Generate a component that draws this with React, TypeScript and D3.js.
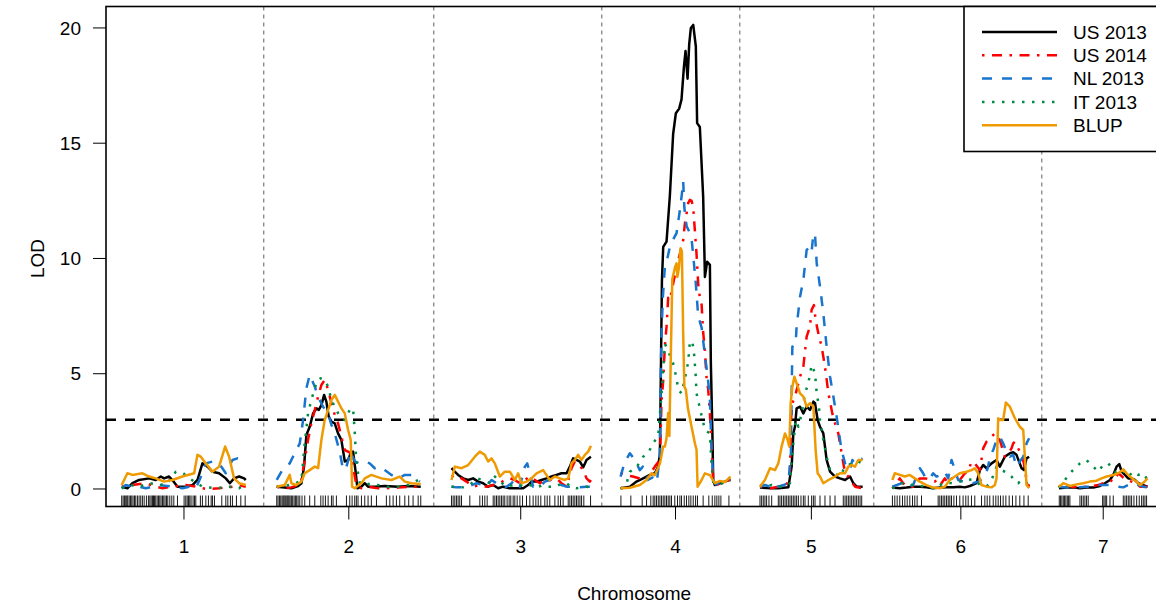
import React from "react";
import * as d3 from "d3";

type Pt = [number, number];

// ---------- data ----------
const chromosomes = ["1", "2", "3", "4", "5", "6", "7"];
const chrLengthsCM = [107, 122, 119, 93, 87, 116, 75];
const chrGapCM = 25;
const dividerPosCM = [121.0, 264.9, 407.1, 523.9, 637.3, 779.5];
const lodThreshold = 3;
const lodTicks = [0, 5, 10, 15, 20];
const seriesNames = ["US 2013", "US 2014", "NL 2013", "IT 2013", "BLUP"];

const markerPos: number[][] = [
  [0.8, 2.0, 3.1, 4.2, 5.1, 5.9, 7.1, 8.2, 9.3, 10.4, 11.6, 12.7, 14.1, 15.5, 16.9, 18.3, 19.8, 21.7, 23.4, 24.6, 25.7, 26.8, 27.7, 28.5, 29.6, 30.8, 31.9, 33.0, 34.1, 35.3, 36.4, 37.5, 38.7, 39.8, 41.5, 43.2, 44.9, 48.0, 53.6, 55.0, 56.2, 57.3, 58.4, 59.5, 61.2, 62.4, 63.5, 67.4, 69.1, 72.0, 74.2, 76.5, 77.6, 79.3, 85.5, 88.9, 90.6, 92.8, 94.5, 97.9, 101.6, 105.3],
  [0, 1.1, 2.3, 3.4, 4.5, 5.4, 6.2, 7.1, 7.9, 8.8, 9.6, 10.4, 11.3, 12.4, 13.5, 14.7, 15.8, 16.9, 18.1, 19.5, 21.4, 23.7, 27.9, 32.2, 37.3, 39.2, 41.2, 43.5, 46.3, 47.7, 50.5, 59.0, 61.8, 63.8, 66.0, 67.4, 68.8, 71.7, 74.5, 77.3, 80.1, 84.4, 92.8, 95.7, 98.5, 101.3, 104.1, 108.4, 111.7, 115.4, 119.7, 121.9],
  [0.9, 2.3, 3.7, 5.1, 6.5, 7.9, 9.4, 16.4, 24.9, 27.1, 29.1, 31.1, 36.2, 37.6, 39.0, 40.4, 41.8, 43.2, 44.6, 46.0, 48.0, 49.7, 51.1, 53.1, 54.5, 56.5, 58.8, 61.0, 64.4, 67.2, 70.0, 72.3, 74.3, 76.5, 79.9, 81.9, 84.1, 88.4, 91.2, 93.2, 95.4, 99.7, 101.1, 102.5, 103.9, 105.3, 106.7, 108.1, 109.6, 111.0, 112.9, 118.6],
  [0.3, 8.7, 18.3, 22.0, 25.6, 27.6, 29.0, 30.4, 31.9, 33.3, 34.7, 36.1, 37.5, 38.9, 40.3, 41.7, 43.1, 45.9, 48.2, 50.2, 51.6, 53.9, 55.8, 57.8, 59.5, 61.5, 63.5, 65.1, 69.9, 74.7, 77.6, 79.8, 81.5, 83.2, 84.9, 91.7],
  [0, 1.4, 2.8, 4.2, 5.6, 7.6, 9.9, 15.5, 16.9, 18.3, 19.8, 21.2, 22.6, 24.0, 25.4, 26.8, 28.2, 29.6, 31.0, 32.5, 34.7, 36.7, 38.1, 40.9, 43.7, 45.2, 46.6, 50.8, 55.0, 59.3, 63.5, 70.5, 72.0, 73.4, 74.8, 76.2, 77.6, 79.0, 80.4, 81.8, 83.2, 84.7, 86.1],
  [0.1, 2.1, 4.1, 6.3, 8.6, 10.6, 12.6, 14.8, 17.1, 19.0, 21.0, 24.7, 38.8, 40.2, 41.6, 43.0, 44.4, 45.9, 47.3, 48.7, 50.1, 52.1, 54.3, 57.1, 59.9, 62.2, 64.2, 67.0, 69.8, 75.5, 78.3, 80.3, 82.5, 85.4, 87.6, 89.6, 91.6, 93.8, 96.1, 98.9, 101.7, 104.6, 107.9, 111.4, 115.0],
  [0.3, 1.4, 2.5, 3.7, 4.8, 5.9, 7.1, 8.2, 9.3, 17.8, 19.2, 20.6, 22.0, 23.4, 24.8, 37.0, 38.1, 39.2, 40.4, 43.2, 46.0, 54.5, 55.9, 57.3, 58.7, 60.1, 61.5, 63.5, 65.8, 68.0, 70.0, 71.4, 72.8, 74.2],
];

const us2013: Pt[][] = [
  [[0.8, 0.1], [5.6, 0.03], [9.9, 0.25], [15.5, 0.39], [24.0, 0.46], [29.6, 0.39], [33.9, 0.54], [36.7, 0.46], [40.9, 0.54], [43.7, 0.39], [48.0, 0.1], [55.0, 0.1], [60.7, 0.17], [64.9, 0.39], [69.1, 1.11], [73.4, 0.97], [77.6, 0.75], [83.2, 0.68], [88.9, 0.46], [92.3, 0.25], [95.9, 0.46], [100.2, 0.54], [104.4, 0.46], [105.8, 0.39]],
  [[0, 0.1], [6.8, 0.06], [12.4, 0.03], [18.1, 0.13], [20.9, 0.25], [23.1, 0.97], [25.1, 2.34], [27.9, 2.7], [30.8, 3.28], [33.6, 3.5], [35.6, 3.43], [37.8, 3.64], [40.1, 4.08], [42.0, 3.79], [44.0, 3.14], [46.3, 2.92], [49.1, 2.85], [51.9, 2.41], [54.7, 2.13], [57.6, 1.19], [60.4, 1.26], [62.6, 1.55], [64.6, 1.62], [66.6, 0.82], [68.3, 0.03], [71.7, 0.1], [74.5, 0.25], [77.3, 0.1], [83.0, 0.1], [91.4, 0.13], [102.7, 0.1], [111.2, 0.13], [121.9, 0.1]],
  [[0.9, 0.9], [3.7, 0.75], [6.5, 0.61], [10.8, 0.46], [15.0, 0.39], [19.2, 0.46], [23.5, 0.32], [27.7, 0.25], [31.9, 0.1], [36.2, 0.17], [40.4, 0.03], [44.6, 0.1], [50.3, 0.03], [55.9, 0.03], [61.6, 0.03], [65.8, 0.17], [68.6, 0.32], [72.9, 0.32], [77.1, 0.39], [81.3, 0.46], [85.6, 0.54], [89.8, 0.61], [94.0, 0.68], [98.3, 0.68], [101.1, 0.97], [103.9, 1.33], [106.7, 1.26], [109.6, 1.19], [112.4, 0.94], [115.2, 1.26], [118.9, 1.4]],
  [[0, 0.03], [7.9, 0.1], [13.5, 0.32], [19.1, 0.46], [24.8, 0.61], [29.0, 0.68], [31.8, 0.97], [33.3, 1.5], [34.1, 5.0], [35.0, 9.0], [36.1, 10.5], [38.9, 10.73], [41.7, 12.7], [44.5, 15.4], [46.8, 16.3], [49.6, 16.5], [51.6, 16.9], [53.6, 18.3], [55.0, 19.0], [56.7, 17.8], [58.1, 19.3], [59.5, 20.0], [61.5, 20.13], [63.7, 19.2], [64.8, 15.87], [67.1, 15.7], [69.9, 12.7], [71.4, 9.2], [73.3, 9.86], [75.6, 9.72], [76.4, 5.5], [77.7, 2.5], [78.4, 0.4], [79.8, 0.17], [84.1, 0.25], [88.3, 0.32], [91.7, 0.39], [93.0, 0.4]],
  [[0, 0.06], [9.9, 0.03], [15.5, 0.03], [24.0, 0.07], [26.8, 0.97], [28.2, 2.41], [29.6, 2.7], [31.0, 3.5], [33.9, 3.57], [36.7, 3.28], [39.5, 3.57], [42.3, 3.43], [45.2, 3.79], [46.6, 3.72], [48.8, 2.99], [50.8, 2.7], [53.6, 2.41], [56.4, 1.26], [59.3, 0.75], [63.5, 0.54], [67.7, 0.46], [72.0, 0.39], [76.2, 0.54], [79.0, 0.25], [81.8, 0.1], [86.9, 0.1]],
  [[0, 0.06], [6.3, 0.03], [12.0, 0.06], [17.6, 0.1], [23.3, 0.1], [28.9, 0.07], [34.6, 0.03], [40.2, 0.06], [45.9, 0.07], [51.5, 0.07], [57.1, 0.1], [61.4, 0.07], [65.6, 0.13], [71.3, 0.25], [74.1, 0.82], [76.9, 1.04], [79.7, 0.9], [84.0, 1.11], [88.2, 1.26], [91.0, 0.97], [95.2, 1.4], [99.5, 1.55], [102.3, 1.59], [105.1, 1.48], [109.4, 0.9], [111.4, 0.82], [113.6, 1.33], [115.8, 1.4]],
  [[0, 0.03], [6.5, 0.06], [12.1, 0.07], [17.8, 0.03], [23.4, 0.06], [29.1, 0.06], [34.7, 0.13], [38.9, 0.25], [43.2, 0.39], [46.0, 0.61], [48.8, 0.97], [51.1, 1.08], [53.1, 0.75], [55.9, 0.61], [58.7, 0.46], [61.5, 0.46], [64.3, 0.39], [67.2, 0.25], [71.4, 0.17], [75.0, 0.1]],
];

const us2014: Pt[][] = [
  [[0.8, 0.1], [9.9, 0.17], [21.2, 0.25], [29.6, 0.1], [35.3, 0.03], [43.7, 0.1], [55.0, 0.17], [63.5, 0.1], [72.0, 0.0], [83.2, 0.03], [94.5, 0.1], [100.2, 0.17], [105.8, 0.1]],
  [[0, 0.1], [6.8, 0.03], [12.4, 0.07], [18.1, 0.17], [20.9, 0.39], [23.7, 1.26], [26.5, 2.13], [29.3, 2.85], [32.2, 3.43], [35.0, 4.01], [37.8, 4.51], [40.6, 4.73], [43.5, 4.3], [46.3, 3.72], [49.1, 3.21], [51.9, 2.85], [54.7, 2.27], [57.6, 1.69], [60.4, 1.62], [62.6, 1.55], [64.6, 0.97], [67.4, 0.17], [71.7, 0.03], [77.3, 0.1], [85.8, 0.03], [91.4, 0.03], [102.7, 0.06], [114.0, 0.1], [121.9, 0.1]],
  [[0.9, 0.54], [5.1, 0.61], [9.4, 0.46], [13.6, 0.32], [19.2, 0.1], [24.9, 0.17], [30.5, 0.1], [36.2, 0.17], [41.8, 0.25], [46.0, 0.39], [50.3, 0.46], [54.5, 0.39], [58.8, 0.25], [63.0, 0.39], [67.2, 0.54], [71.5, 0.39], [75.7, 0.25], [79.9, 0.39], [84.1, 0.39], [89.8, 0.46], [94.0, 0.25], [98.3, 0.1], [102.5, 0.9], [105.3, 1.19], [108.1, 1.11], [112.4, 0.82], [115.2, 0.46], [118.0, 0.32], [118.9, 0.39]],
  [[0, 0.7], [4.5, 0.6], [10.4, 0.54], [16.3, 0.45], [23.1, 0.5], [29.0, 0.97], [33.3, 1.26], [34.7, 3.86], [36.1, 4.7], [37.5, 6.2], [38.9, 7.04], [40.3, 8.3], [41.7, 8.2], [44.5, 8.9], [47.4, 9.64], [50.2, 10.2], [53.0, 10.8], [54.4, 11.5], [55.9, 11.96], [57.2, 12.4], [58.7, 12.54], [60.1, 12.5], [61.5, 12.2], [62.9, 11.2], [64.3, 10.2], [65.7, 8.9], [67.1, 8.3], [68.6, 8.0], [69.9, 6.8], [71.4, 6.0], [72.8, 4.8], [74.2, 4.3], [75.6, 3.3], [77.0, 1.84], [78.4, 0.39], [82.4, 0.2], [85.8, 0.3], [89.2, 0.35], [93.0, 0.4]],
  [[0, 0.1], [8.5, 0.03], [15.5, 0.1], [22.6, 0.17], [25.4, 0.68], [26.2, 2.99], [27.4, 3.72], [29.6, 4.01], [33.9, 4.87], [36.7, 5.31], [39.5, 6.61], [42.3, 7.04], [43.7, 7.77], [45.7, 7.98], [47.1, 7.33], [49.4, 6.75], [52.2, 6.17], [55.0, 5.31], [57.9, 4.15], [61.2, 3.28], [63.5, 2.85], [66.3, 2.41], [69.1, 1.55], [72.0, 0.68], [74.8, 0.54], [80.4, 0.1], [86.9, 0.03]],
  [[0, 0.03], [3.5, 0.25], [6.3, 0.46], [9.2, 0.25], [13.4, 0.1], [17.6, 0.1], [23.3, 0.46], [27.5, 0.46], [31.7, 0.42], [36.0, 0.32], [38.8, 0.46], [41.6, 0.25], [44.4, 0.46], [47.3, 0.25], [50.1, 0.46], [54.3, 0.46], [57.1, 0.39], [61.4, 0.68], [64.2, 0.75], [67.0, 1.19], [69.8, 1.11], [74.1, 0.82], [76.9, 1.76], [79.7, 2.05], [84.0, 2.27], [86.8, 2.41], [88.2, 2.34], [91.0, 2.13], [95.2, 1.4], [98.1, 1.55], [100.9, 1.76], [102.3, 1.98], [103.7, 2.05], [106.5, 1.76], [109.4, 1.48], [111.4, 1.11], [113.6, 0.39], [115.8, 0.1]],
  [[0, 0.07], [3.7, 0.25], [6.5, 0.17], [10.7, 0.1], [17.8, 0.06], [23.4, 0.1], [29.1, 0.14], [33.3, 0.17], [37.5, 0.25], [40.4, 0.3], [43.2, 0.39], [46.0, 0.32], [50.2, 0.68], [53.1, 0.56], [55.9, 0.42], [58.7, 0.36], [61.5, 0.32], [65.8, 0.25], [68.6, 0.1], [75.0, 0.1]],
];

const nl2013: Pt[][] = [
  [[0.8, 0.03], [4.2, 0.17], [9.9, 0.1], [15.5, 0.1], [21.2, 0.03], [26.8, 0.1], [32.5, 0.17], [43.7, 0.1], [52.2, 0.03], [57.9, 0.1], [63.5, 0.03], [69.1, 0.68], [72.0, 1.11], [77.6, 1.19], [83.2, 1.11], [88.9, 0.68], [94.5, 1.26], [98.8, 1.33], [105.8, 1.26]],
  [[0, 0.39], [4.0, 0.75], [6.8, 0.97], [11.0, 1.11], [15.2, 1.55], [19.5, 1.98], [22.3, 2.99], [25.1, 4.37], [27.9, 4.95], [32.2, 4.44], [35.0, 4.01], [39.2, 3.57], [43.5, 3.28], [46.3, 2.78], [49.1, 2.41], [53.3, 1.62], [56.2, 0.82], [59.0, 0.97], [62.6, 1.62], [66.0, 1.19], [70.3, 1.11], [74.5, 1.19], [78.7, 1.11], [83.0, 0.9], [87.2, 0.97], [91.4, 0.82], [97.1, 0.61], [102.7, 0.46], [108.4, 0.61], [114.0, 0.61], [121.1, 0.32]],
  [[0.9, 0.1], [5.1, 0.07], [10.8, 0.07], [16.4, 0.13], [22.1, 0.25], [27.7, 0.17], [30.5, 0.1], [34.8, 0.39], [39.0, 0.25], [43.2, 0.1], [47.5, 0.1], [51.7, 0.25], [54.5, 0.39], [58.8, 0.1], [63.0, 0.97], [65.0, 1.11], [67.2, 0.68], [70.0, 0.1], [75.7, 0.1], [79.9, 0.32], [84.1, 0.39], [89.8, 0.25], [94.0, 0.17], [98.3, 0.1], [103.9, 0.1], [109.6, 0.07], [115.2, 0.1], [118.9, 0.1]],
  [[0, 0.54], [3.6, 1.18], [7.9, 1.55], [12.1, 1.26], [16.3, 0.82], [18.9, 0.97], [23.1, 0.39], [27.3, 0.5], [30.7, 0.3], [33.3, 1.5], [33.9, 4.6], [34.7, 6.8], [35.8, 8.3], [37.5, 9.64], [39.2, 9.9], [41.7, 10.5], [44.3, 10.8], [47.4, 11.1], [50.2, 12.1], [51.9, 12.8], [53.0, 13.35], [54.0, 12.2], [55.9, 11.4], [58.7, 11.1], [60.4, 10.7], [62.1, 9.8], [63.7, 8.9], [65.7, 7.5], [68.6, 7.0], [71.4, 5.8], [73.9, 4.8], [75.6, 3.9], [76.8, 2.0], [78.4, 0.39], [80.7, 0.2], [84.1, 0.3], [88.3, 0.35], [93.0, 0.4]],
  [[0, 0.1], [4.2, 0.17], [8.5, 0.1], [12.7, 0.25], [15.5, 0.1], [19.8, 0.17], [24.0, 0.25], [26.2, 1.55], [26.8, 4.15], [27.4, 6.17], [29.1, 6.32], [30.2, 6.32], [31.0, 7.04], [33.9, 8.34], [36.7, 9.07], [39.5, 10.37], [42.3, 10.51], [43.7, 10.3], [45.2, 11.09], [46.6, 11.02], [48.0, 9.79], [50.8, 8.78], [53.6, 7.62], [56.4, 6.17], [59.3, 4.87], [62.1, 4.01], [64.9, 3.14], [67.7, 2.13], [69.1, 1.69], [72.0, 1.11], [76.2, 0.82], [78.2, 1.26], [80.4, 1.11], [84.7, 1.26], [86.9, 1.33]],
  [[0, 0.1], [3.5, 0.17], [7.8, 0.25], [12.0, 0.1], [17.6, 0.17], [20.5, 0.54], [23.3, 0.9], [26.1, 0.68], [28.9, 0.42], [31.7, 0.46], [34.6, 0.68], [37.4, 0.54], [41.6, 0.61], [44.4, 0.75], [47.3, 0.46], [50.1, 1.26], [52.1, 0.97], [55.7, 0.39], [60.0, 0.32], [64.2, 0.25], [68.4, 0.25], [72.7, 0.32], [76.9, 0.46], [79.7, 0.75], [81.1, 0.97], [82.5, 1.4], [85.4, 1.69], [88.2, 2.13], [91.0, 2.27], [93.8, 1.98], [96.6, 1.62], [99.5, 1.4], [102.3, 1.48], [105.1, 0.97], [107.9, 1.19], [110.8, 1.4], [113.6, 1.98], [115.8, 2.2]],
  [[0, 0.1], [6.5, 0.06], [12.1, 0.07], [17.8, 0.07], [23.4, 0.1], [29.1, 0.1], [33.3, 0.17], [37.5, 0.17], [43.2, 0.17], [46.0, 0.14], [50.2, 0.1], [54.5, 0.07], [58.7, 0.17], [62.9, 0.25], [67.2, 0.17], [71.4, 0.1], [75.0, 0.07]],
];

const it2013: Pt[][] = [
  [[0.8, 0.03], [8.5, 0.17], [15.5, 0.1], [24.0, 0.25], [38.1, 0.17], [46.6, 0.75], [52.2, 0.71], [56.4, 0.54], [62.1, 0.32], [69.1, 0.1], [80.4, 0.03], [91.7, 0.1], [100.2, 0.03], [105.3, 0.25]],
  [[0, 0.1], [6.8, 0.13], [15.2, 0.22], [20.9, 0.39], [23.7, 1.98], [26.5, 3.28], [29.3, 3.86], [32.2, 4.37], [34.4, 4.73], [37.3, 4.8], [40.6, 4.73], [43.5, 4.44], [46.3, 3.86], [49.1, 3.57], [53.3, 3.14], [57.6, 2.99], [61.8, 3.43], [64.6, 3.5], [66.0, 2.49], [67.4, 1.11], [70.3, 0.25], [74.5, 0.17], [80.1, 0.25], [85.8, 0.17], [91.4, 0.1], [102.7, 0.1], [111.2, 0.17], [119.7, 0.39]],
  [[0.9, 0.1], [6.5, 0.1], [10.8, 0.07], [16.4, 0.17], [22.1, 0.46], [27.7, 0.39], [33.4, 0.25], [37.6, 0.54], [41.8, 0.32], [47.5, 0.1], [53.1, 0.17], [58.8, 0.17], [63.0, 0.1], [67.2, 0.17], [72.9, 0.07], [78.5, 0.17], [84.1, 0.1], [89.8, 0.1], [94.0, 0.25], [98.3, 0.25], [102.5, 0.07], [106.7, 0.03], [112.4, 0.07], [115.2, 0.1], [118.9, 0.07]],
  [[0, 0.0], [5.1, 0.25], [7.9, 0.75], [13.0, 0.9], [19.1, 1.4], [23.4, 1.55], [27.6, 2.0], [31.8, 2.27], [34.7, 4.15], [37.5, 6.3], [40.3, 6.0], [41.7, 5.8], [44.5, 5.45], [47.4, 4.8], [48.8, 4.3], [51.6, 4.15], [53.6, 4.6], [55.3, 5.0], [57.2, 5.5], [58.7, 6.4], [60.6, 6.4], [62.0, 6.0], [63.5, 5.0], [64.3, 4.15], [67.1, 3.5], [71.4, 2.56], [75.6, 2.4], [77.0, 1.1], [78.4, 0.3], [84.1, 0.2], [88.3, 0.3], [93.0, 0.35]],
  [[0, 0.17], [4.2, 0.1], [9.9, 0.17], [15.5, 0.1], [21.2, 0.1], [25.4, 0.25], [26.8, 1.26], [29.1, 2.41], [30.2, 2.99], [32.5, 2.7], [35.3, 3.28], [38.1, 4.15], [40.9, 4.58], [43.7, 5.38], [46.6, 5.02], [48.0, 4.15], [49.9, 3.57], [50.8, 2.99], [53.6, 2.13], [56.4, 1.4], [59.3, 0.82], [63.5, 0.68], [67.7, 0.54], [72.0, 0.97], [77.6, 1.11], [83.2, 1.19], [86.9, 1.11]],
  [[0, 0.03], [3.5, 0.1], [7.8, 0.25], [12.0, 0.22], [17.6, 0.17], [23.3, 0.13], [28.9, 0.1], [34.6, 0.03], [40.2, 0.17], [45.9, 0.27], [51.5, 0.25], [57.1, 0.32], [62.8, 0.36], [67.0, 0.42], [71.3, 0.32], [74.1, 0.17], [79.7, 0.1], [84.0, 0.39], [88.2, 0.97], [92.4, 0.82], [98.1, 0.68], [100.9, 0.54], [103.7, 0.32], [106.5, 0.25], [109.4, 0.39], [113.0, 0.32], [115.8, 0.1]],
  [[0, 0.06], [5.1, 0.39], [9.3, 0.68], [13.5, 0.9], [17.8, 1.11], [22.0, 1.26], [24.8, 1.19], [29.1, 0.97], [33.3, 0.75], [37.5, 1.04], [41.8, 1.11], [46.0, 0.82], [50.2, 0.61], [54.5, 0.75], [58.7, 0.54], [62.9, 0.75], [67.2, 0.61], [71.4, 0.68], [75.0, 0.39]],
];

const blup: Pt[][] = [
  [[0.8, 0.17], [5.6, 0.68], [9.9, 0.61], [18.3, 0.68], [24.0, 0.54], [29.6, 0.46], [36.7, 0.32], [43.7, 0.39], [52.2, 0.54], [62.1, 0.68], [64.9, 1.48], [67.7, 1.4], [72.0, 1.11], [77.6, 0.75], [83.2, 0.97], [88.3, 1.84], [91.7, 1.4], [95.9, 0.46], [100.2, 0.25], [105.8, 0.17]],
  [[0, 0.1], [6.8, 0.17], [11.0, 0.61], [12.4, 0.25], [16.6, 0.17], [20.9, 0.32], [23.7, 0.68], [27.9, 0.82], [32.2, 0.97], [35.0, 0.9], [37.8, 2.13], [40.6, 2.99], [43.5, 3.43], [46.3, 3.86], [49.1, 4.08], [51.9, 3.79], [54.7, 3.5], [57.6, 3.28], [60.4, 2.56], [62.6, 2.13], [63.8, 0.1], [66.0, 0.03], [71.7, 0.25], [74.5, 0.46], [80.1, 0.61], [88.6, 0.46], [97.1, 0.39], [104.1, 0.54], [108.4, 0.32], [114.0, 0.25], [121.9, 0.22]],
  [[0.9, 0.39], [3.7, 0.97], [9.4, 0.9], [15.0, 1.04], [20.7, 1.4], [24.9, 1.62], [29.1, 1.48], [31.9, 1.19], [34.8, 1.33], [37.6, 1.11], [41.8, 0.54], [46.0, 0.75], [50.3, 0.75], [54.5, 0.39], [57.3, 0.68], [60.2, 0.25], [64.4, 0.32], [68.6, 0.46], [72.9, 0.68], [78.5, 0.82], [84.1, 0.39], [88.4, 0.54], [92.6, 0.46], [96.8, 0.39], [99.7, 0.46], [102.5, 1.11], [105.3, 1.26], [108.1, 1.48], [111.0, 1.26], [113.8, 1.48], [116.6, 1.62], [118.9, 1.87]],
  [[0, 0.03], [7.9, 0.05], [16.3, 0.17], [22.0, 0.39], [26.2, 0.68], [29.0, 0.6], [33.3, 1.11], [36.1, 1.84], [37.5, 1.84], [38.9, 2.2], [40.3, 3.3], [41.3, 2.3], [42.6, 6.0], [43.8, 9.1], [46.0, 9.6], [47.4, 9.79], [48.1, 9.2], [49.4, 9.6], [50.8, 10.44], [51.9, 10.3], [53.0, 6.75], [54.0, 4.44], [55.3, 4.3], [57.0, 3.5], [60.1, 2.7], [62.9, 1.98], [64.3, 1.7], [65.2, 0.1], [68.6, 0.39], [71.4, 0.68], [75.6, 0.6], [79.8, 0.25], [84.1, 0.35], [88.3, 0.3], [93.0, 0.54]],
  [[0, 0.1], [4.2, 0.39], [8.5, 0.9], [12.7, 0.82], [15.5, 1.11], [18.3, 1.84], [21.2, 2.41], [23.4, 2.13], [24.8, 1.84], [26.0, 3.72], [27.4, 4.44], [29.1, 4.87], [31.0, 4.58], [33.9, 4.15], [36.7, 4.01], [39.5, 3.57], [42.3, 3.72], [45.2, 3.57], [47.1, 1.69], [48.8, 0.68], [50.8, 0.54], [53.6, 0.25], [57.9, 0.39], [63.5, 0.54], [67.7, 0.68], [72.0, 0.68], [74.8, 0.97], [77.6, 1.04], [80.4, 0.97], [83.2, 1.26], [86.9, 1.26]],
  [[0, 0.39], [2.1, 0.68], [6.3, 0.61], [10.6, 0.54], [14.8, 0.61], [19.0, 0.46], [23.3, 0.32], [28.9, 0.17], [34.6, 0.06], [40.2, 0.03], [44.4, 0.1], [48.7, 0.39], [52.9, 0.54], [57.1, 0.68], [62.8, 0.75], [67.0, 0.82], [69.8, 0.9], [72.7, 0.68], [75.5, 0.17], [79.7, 0.1], [84.0, 0.07], [86.8, 0.17], [88.2, 0.46], [89.6, 3.07], [91.0, 2.99], [93.8, 2.99], [96.1, 3.75], [99.5, 3.57], [103.7, 3.07], [107.9, 2.7], [110.8, 2.56], [113.6, 0.17], [115.8, 0.03]],
  [[0, 0.1], [3.7, 0.25], [9.3, 0.13], [15.0, 0.2], [20.6, 0.25], [26.2, 0.32], [31.9, 0.36], [36.1, 0.46], [40.4, 0.54], [46.0, 0.61], [50.2, 0.68], [54.5, 0.85], [57.3, 0.68], [60.1, 0.54], [62.9, 0.42], [65.8, 0.32], [68.6, 0.17], [71.4, 0.27], [75.0, 0.46]],
];

const seriesData = [us2013, us2014, nl2013, it2013, blup];
const seriesColors = ["#000000", "#FF0000", "#1874CD", "#008B45", "#EE9A00"];
const seriesDash: (string | undefined)[] = [undefined, "2.5,7.5,10,7.5", "10,10", "2.5,7.5", undefined];

// ---------- layout ----------
const W = 1156;
const H = 606;
const left = 106;
const right = 1162.3;
const top = 6.5;
const bottom = 506.5;
const FONT = "'Liberation Sans', Arial, Helvetica, sans-serif";
const FS = 19;

export default function App() {
  const chrStarts: number[] = [];
  let acc = 0;
  chrLengthsCM.forEach((len) => {
    chrStarts.push(acc);
    acc += len + chrGapCM;
  });
  const totalEnd = acc - chrGapCM;

  const x = d3.scaleLinear().domain([-chrGapCM / 2, totalEnd + chrGapCM / 2]).range([left, right]);
  const y = d3.scaleLinear().domain([-0.76, 20.93]).range([bottom, top]);

  const lineGen = (offset: number) =>
    d3
      .line<Pt>()
      .x((d) => x(offset + d[0]))
      .y((d) => y(d[1]));

  const legendRowY = [32, 55.3, 78.6, 101.9, 125.2];

  return (
    <svg
      width={W}
      height={H}
      style={{ position: "absolute", left: 0, top: 0, background: "#fff" }}
      fontFamily={FONT}
    >
      <defs>
        <clipPath id="plotClip">
          <rect x={left} y={top} width={right - left} height={bottom - top} />
        </clipPath>
      </defs>
      <rect x={0} y={0} width={W} height={H} fill="#fff" />

      <g clipPath="url(#plotClip)">
        {/* chromosome separators */}
        {dividerPosCM.map((d, i) => (
          <line key={"dv" + i} x1={x(d)} x2={x(d)} y1={top} y2={bottom} stroke="#7a7a7a" strokeWidth={1.2} strokeDasharray="4,4" />
        ))}
        {/* threshold */}
        <line x1={left} x2={right} y1={y(lodThreshold)} y2={y(lodThreshold)} stroke="#000" strokeWidth={2.5} strokeDasharray="10,9" />
        {/* rug of markers */}
        {markerPos.map((arr, ci) =>
          arr.map((m, mi) => (
            <line key={`rg${ci}-${mi}`} x1={x(chrStarts[ci] + m)} x2={x(chrStarts[ci] + m)} y1={bottom} y2={bottom - 11} stroke="#000" strokeWidth={0.9} />
          ))
        )}
        {/* LOD curves */}
        {seriesData.map((series, si) =>
          series.map((pts, ci) => (
            <path
              key={`s${si}-${ci}`}
              d={lineGen(chrStarts[ci])(pts) || ""}
              fill="none"
              stroke={seriesColors[si]}
              strokeWidth={2.5}
              strokeDasharray={seriesDash[si]}
              strokeLinejoin="round"
              strokeLinecap="butt"
            />
          ))
        )}
      </g>

      {/* plot frame */}
      <rect x={left} y={top} width={right - left} height={bottom - top} fill="none" stroke="#000" strokeWidth={1.6} />

      {/* y axis */}
      {lodTicks.map((t) => (
        <g key={"yt" + t}>
          <line x1={left - 13} x2={left} y1={y(t)} y2={y(t)} stroke="#000" strokeWidth={1} />
          <text x={left - 25} y={y(t)} dy="0.35em" textAnchor="end" fontSize={FS} fill="#000">
            {t}
          </text>
        </g>
      ))}
      <text transform={`translate(37,${(y(20) + y(0)) / 2 + 0}) rotate(-90)`} textAnchor="middle" dy="0.35em" fontSize={FS} fill="#000">
        LOD
      </text>

      {/* x axis */}
      {chromosomes.map((c, i) => {
        const mx = x(chrStarts[i] + chrLengthsCM[i] / 2);
        return (
          <g key={"xt" + c}>
            <line x1={mx} x2={mx} y1={bottom} y2={bottom + 13} stroke="#000" strokeWidth={1} />
            <text x={mx} y={546} dy="0.35em" textAnchor="middle" fontSize={FS} fill="#000">
              {c}
            </text>
          </g>
        );
      })}
      <text x={(left + right) / 2} y={593} dy="0.35em" textAnchor="middle" fontSize={FS} fill="#000">
        Chromosome
      </text>

      {/* legend */}
      <g>
        <rect x={964} y={top} width={right - 964} height={151.5 - top} fill="#fff" stroke="#000" strokeWidth={1.6} />
        {seriesNames.map((name, i) => (
          <g key={"lg" + i}>
            <line x1={982} x2={1057} y1={legendRowY[i]} y2={legendRowY[i]} stroke={seriesColors[i]} strokeWidth={2.5} strokeDasharray={seriesDash[i]} />
            <text x={1073} y={legendRowY[i]} dy="0.35em" fontSize={FS} fill="#000">
              {name}
            </text>
          </g>
        ))}
      </g>
    </svg>
  );
}
